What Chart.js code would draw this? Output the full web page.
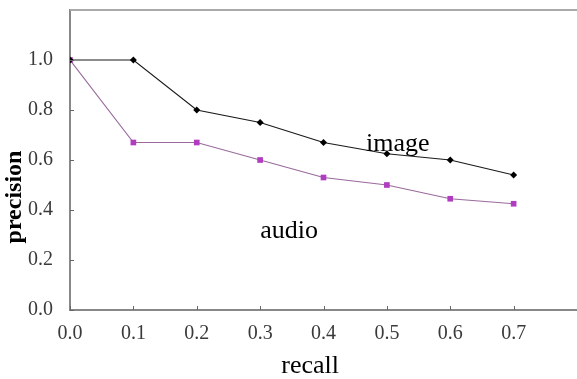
<!DOCTYPE html>
<html>
<head>
<meta charset="utf-8">
<script src="https://cdn.jsdelivr.net/npm/chart.js@4/dist/chart.umd.min.js"></script>
<style>
  html, body { margin: 0; padding: 0; background: #fff; }
  canvas { display: block; }
</style>
</head>
<body>
<canvas id="chart" width="577" height="379"></canvas>
<script>
const recall = [0.0, 0.1, 0.2, 0.3, 0.4, 0.5, 0.6, 0.7];
const imagePrecision = [1.0, 1.0, 0.8, 0.75, 0.67, 0.625, 0.6, 0.54];
const audioPrecision = [1.0, 0.67, 0.67, 0.6, 0.53, 0.5, 0.445, 0.425];
const xTicks = [0.0, 0.1, 0.2, 0.3, 0.4, 0.5, 0.6, 0.7];
const yTicks = [0.0, 0.2, 0.4, 0.6, 0.8, 1.0];

const serif = '"Liberation Serif", "DejaVu Serif", serif';

function points(ys) {
   return recall.map((x, i) => ({ x: x, y: ys[i] }));
}

// inside tick marks, top frame line and text labels
const decorations = {
   id: 'decorations',
   afterDraw(chart) {
      const ctx = chart.ctx;
      const area = chart.chartArea;
      const xs = chart.scales.x;
      const ys = chart.scales.y;
      ctx.save();
      ctx.strokeStyle = '#aaa';
      ctx.lineWidth = 2;
      ctx.beginPath();
      ctx.moveTo(area.left, area.top);
      ctx.lineTo(area.right, area.top);
      ctx.stroke();

      ctx.strokeStyle = '#666';
      ctx.lineWidth = 1;
      ctx.beginPath();
      xTicks.forEach(v => {
         const px = Math.round(xs.getPixelForValue(v)) + 0.5;
         ctx.moveTo(px, area.bottom);
         ctx.lineTo(px, area.bottom - 4);
      });
      yTicks.forEach(v => {
         const py = Math.round(ys.getPixelForValue(v)) + 0.5;
         ctx.moveTo(area.left, py);
         ctx.lineTo(area.left + 4, py);
      });
      ctx.stroke();

      ctx.fillStyle = '#000';
      ctx.font = '26px ' + serif;
      ctx.textAlign = 'left';
      ctx.textBaseline = 'alphabetic';
      ctx.fillText('image', xs.getPixelForValue(0.467), ys.getPixelForValue(0.637));
      ctx.fillText('audio', xs.getPixelForValue(0.3), ys.getPixelForValue(0.29));
      ctx.textAlign = 'center';
      ctx.fillText('recall', xs.getPixelForValue(0.379), 373);

      ctx.translate(15, 197);
      ctx.rotate(-Math.PI / 2);
      ctx.font = 'bold 24px ' + serif;
      ctx.textBaseline = 'middle';
      ctx.fillText('precision', 0, 0);
      ctx.restore();
   }
};

new Chart(document.getElementById('chart').getContext('2d'), {
   type: 'line',
   data: {
      datasets: [
         {
            label: 'image',
            data: points(imagePrecision),
            borderColor: '#1a1a1a',
            backgroundColor: '#000',
            borderWidth: 1.2,
            pointStyle: 'rectRot',
            pointRadius: 3.5,
            pointBorderWidth: 0,
         },
         {
            label: 'audio',
            data: points(audioPrecision),
            borderColor: '#9a6a9c',
            backgroundColor: '#b03cc0',
            borderWidth: 1.2,
            pointStyle: 'rect',
            pointRadius: 4,
            pointBorderWidth: 0,
         },
      ],
   },
   options: {
      responsive: false,
      animation: false,
      layout: { autoPadding: false, padding: { top: 10, right: 0, left: 0, bottom: 0 } },
      plugins: { legend: { display: false }, tooltip: { enabled: false } },
      scales: {
         x: {
            type: 'linear',
            min: 0,
            max: 0.8,
            afterBuildTicks: scale => { scale.ticks = xTicks.map(v => ({ value: v })); },
            afterFit: scale => {
               scale.height = 69;
               scale.paddingLeft = 0;
               scale.paddingRight = 0;
            },
            grid: { display: false },
            border: { display: true, color: '#888', width: 2 },
            ticks: {
               color: '#3a3a3a',
               font: { family: serif, size: 20 },
               padding: 4,
               maxRotation: 0,
               callback: v => v.toFixed(1),
            },
         },
         y: {
            min: 0,
            max: 1.2,
            afterBuildTicks: scale => { scale.ticks = yTicks.map(v => ({ value: v })); },
            afterFit: scale => {
               scale.width = 70;
               scale.paddingTop = 0;
               scale.paddingBottom = 0;
            },
            grid: { display: false },
            border: { display: true, color: '#888', width: 2 },
            ticks: {
               color: '#3a3a3a',
               font: { family: serif, size: 20 },
               padding: 9,
               callback: v => v.toFixed(1),
            },
         },
      },
   },
   plugins: [decorations],
});
</script>
</body>
</html>
